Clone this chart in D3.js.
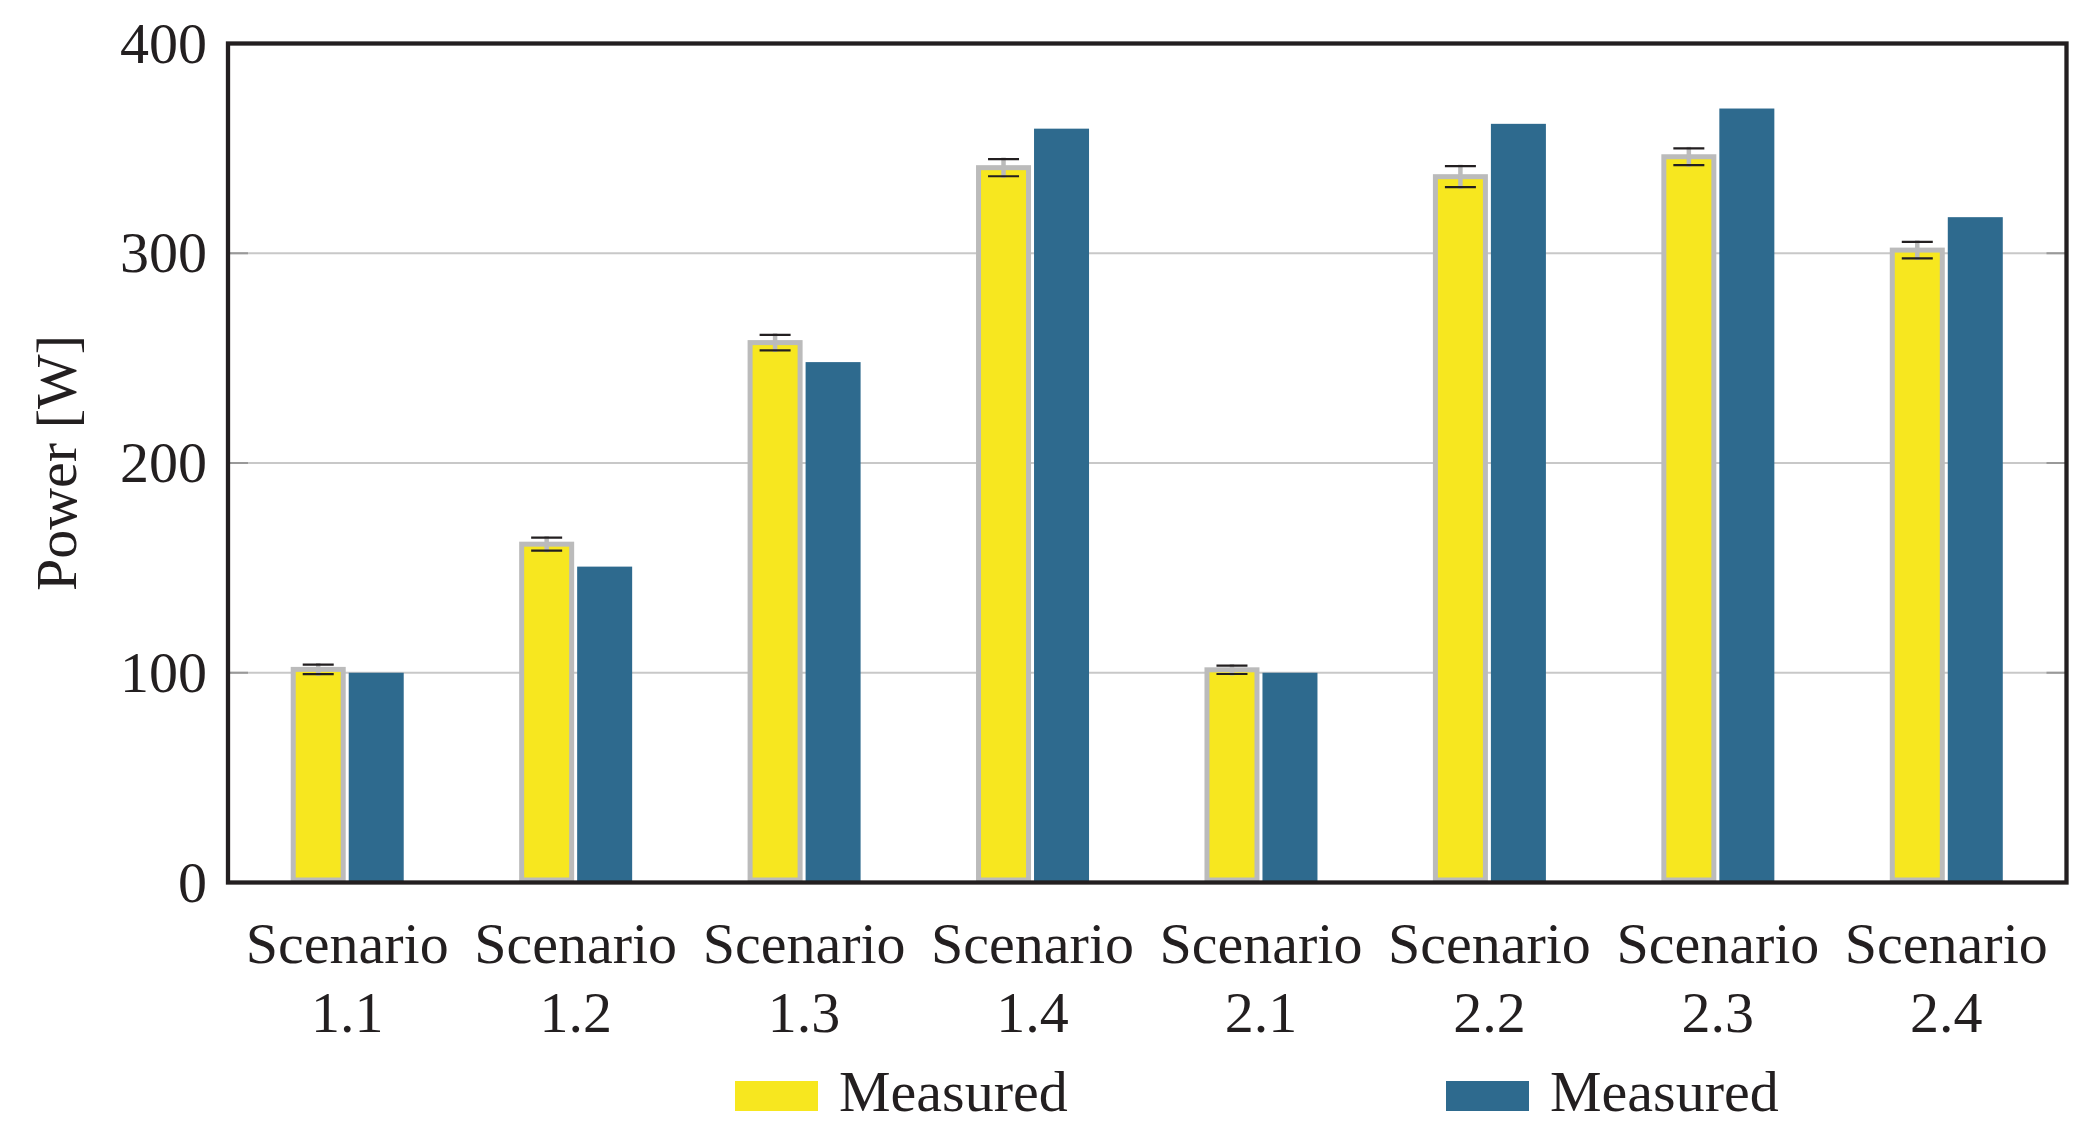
<!DOCTYPE html>
<html>
<head>
<meta charset="utf-8">
<script src="https://cdn.jsdelivr.net/npm/d3@7"></script>
<style>
  body { margin: 0; background: #fff; }
  text { font-family: "Liberation Serif", "DejaVu Serif", serif; fill: #231f20; }
</style>
</head>
<body>
<div class="chart"></div>
<script>
// data
const categories = ["1.1", "1.2", "1.3", "1.4", "2.1", "2.2", "2.3", "2.4"];
const seriesNames = ["Measured", "Measured"];
const measuredA = [101.6, 161.3, 257.4, 340.8, 101.4, 336.5, 346.0, 301.5];
const measuredAErr = [2.3, 3.1, 3.7, 4.1, 2.0, 5.0, 4.0, 3.9];
const measuredB = [100.0, 150.6, 248.1, 359.4, 100.0, 361.7, 369.0, 317.2];
const yTicks = [0, 100, 200, 300, 400];

document.addEventListener("DOMContentLoaded", function () {
    const w = 2095,
        h = 1139,
        left = 228,
        right = 2066.5,
        top = 43.5,
        bottom = 882.5;

    const dataset = categories.map((c, i) => ({
        cat: c,
        a: measuredA[i],
        err: measuredAErr[i],
        b: measuredB[i]
    }));

    const svg = d3.select(".chart")
        .append("svg")
        .attr("width", w)
        .attr("height", h);

    const xScale = d3.scaleBand()
        .domain(categories)
        .range([left + 5, right - 6]);

    const xSub = d3.scaleBand()
        .domain(["a", "b"])
        .range([-56.5, 56.5])
        .paddingInner(0.0517);

    const yScale = d3.scaleLinear()
        .domain([0, 400])
        .range([bottom, top]);

    const cx = d => xScale(d.cat) + xScale.bandwidth() / 2;

    // grid
    svg.append("g")
        .selectAll("line")
        .data(yTicks.filter(t => t > 0 && t < 400))
        .enter()
        .append("line")
        .attr("x1", left)
        .attr("x2", right)
        .attr("y1", d => yScale(d))
        .attr("y2", d => yScale(d))
        .attr("stroke", "#c8c8c8")
        .attr("stroke-width", 2);

    // small inner ticks on both sides
    svg.append("g")
        .selectAll("path")
        .data(yTicks)
        .enter()
        .append("path")
        .attr("d", d => "M" + left + "," + yScale(d) + "h20M" + right + "," + yScale(d) + "h-20")
        .attr("stroke", "#999")
        .attr("stroke-width", 2);

    const bw = xSub.bandwidth();

    // yellow bars with grey outline
    svg.append("g")
        .selectAll("rect")
        .data(dataset)
        .enter()
        .append("rect")
        .attr("x", d => cx(d) + xSub("a") + 2.5)
        .attr("y", d => yScale(d.a))
        .attr("width", bw - 5)
        .attr("height", d => bottom - 2.5 - yScale(d.a))
        .attr("fill", "#f7e71f")
        .attr("stroke", "#bbbbbb")
        .attr("stroke-width", 5);

    // blue bars
    svg.append("g")
        .selectAll("rect")
        .data(dataset)
        .enter()
        .append("rect")
        .attr("x", d => cx(d) + xSub("b"))
        .attr("y", d => yScale(d.b))
        .attr("width", bw)
        .attr("height", d => bottom - yScale(d.b))
        .attr("fill", "#2e6a8e");

    // error bars
    const eb = svg.append("g");
    const ex = d => cx(d) + xSub("a") + bw / 2;
    eb.selectAll("line.stem")
        .data(dataset)
        .enter()
        .append("line")
        .attr("class", "stem")
        .attr("x1", ex)
        .attr("x2", ex)
        .attr("y1", d => yScale(d.a + d.err) - 1.5)
        .attr("y2", d => yScale(d.a - d.err) + 1.5)
        .attr("stroke", "#bbbbbb")
        .attr("stroke-width", 4.5);
    eb.selectAll("path.cap")
        .data(dataset)
        .enter()
        .append("path")
        .attr("class", "cap")
        .attr("d", d => "M" + (ex(d) - 15.5) + "," + yScale(d.a + d.err) + "h31" +
            "M" + (ex(d) - 15.5) + "," + yScale(d.a - d.err) + "h31")
        .attr("stroke", "#231f20")
        .attr("stroke-width", 2.2);

    // frame
    svg.append("rect")
        .attr("x", left)
        .attr("y", top)
        .attr("width", right - left)
        .attr("height", bottom - top)
        .attr("fill", "none")
        .attr("stroke", "#231f20")
        .attr("stroke-width", 4.3);

    // axes
    const yAxis = d3.axisLeft(yScale).tickValues(yTicks).tickSize(0).tickPadding(21);
    const gy = svg.append("g")
        .attr("transform", "translate(" + left + ",0)")
        .call(yAxis);
    gy.select(".domain").remove();
    gy.selectAll("text")
        .style("font-size", "58px")
        .style("font-family", "Liberation Serif")
        .attr("fill", "#231f20");

    const xAxis = d3.axisBottom(xScale).tickSize(0);
    const gx = svg.append("g")
        .attr("transform", "translate(0," + bottom + ")")
        .call(xAxis);
    gx.select(".domain").remove();
    gx.selectAll(".tick text").each(function (d) {
        const t = d3.select(this)
            .text(null)
            .attr("dy", null)
            .attr("y", null)
            .style("font-size", "58px")
            .style("font-family", "Liberation Serif")
            .attr("fill", "#231f20");
        t.append("tspan").attr("x", 0).attr("y", 80.5).text("Scenario");
        t.append("tspan").attr("x", 0).attr("y", 149.5).text(d);
    });

    svg.append("text")
        .attr("transform", "translate(76," + (top + bottom) / 2 + ") rotate(-90)")
        .attr("text-anchor", "middle")
        .style("font-size", "58px")
        .text("Power [W]");

    // legend
    const legendX = [735, 1446];
    const legendColors = ["#f7e71f", "#2e6a8e"];
    const lg = svg.append("g")
        .selectAll("g")
        .data(seriesNames)
        .enter()
        .append("g")
        .attr("transform", (d, i) => "translate(" + legendX[i] + ",1111)");
    lg.append("rect")
        .attr("x", 0)
        .attr("y", -30)
        .attr("width", 83)
        .attr("height", 30)
        .attr("fill", (d, i) => legendColors[i]);
    lg.append("text")
        .attr("x", 104)
        .attr("y", 0)
        .style("font-size", "58px")
        .text(d => d);
});
</script>
</body>
</html>
